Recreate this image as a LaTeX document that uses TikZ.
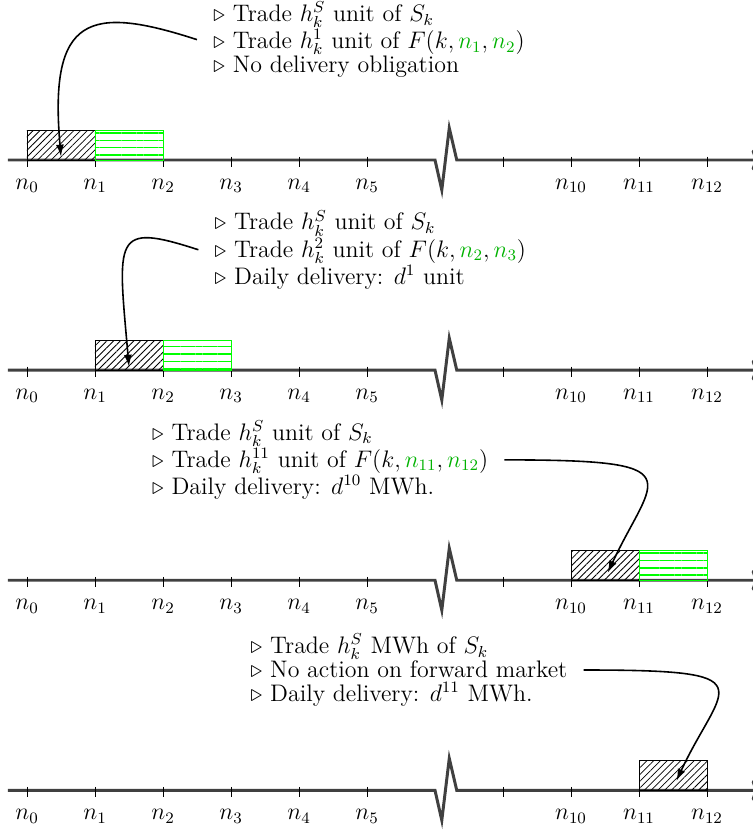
\documentclass[tikz,border=0pt]{standalone}
\usepackage{amsmath,amssymb}
\usepackage{xcolor}
\usepackage{tikz}
\usetikzlibrary{shapes,arrows,arrows.meta,positioning,patterns,patterns.meta}

\tikzset{
  axisline/.style={line width=1.5pt, black!75, ->},
  spotbox/.style={draw=black, pattern={Lines[angle=45,distance=2.4pt]}},
  fwdbox/.style={draw=green, pattern color=green, pattern={Lines[angle=0,distance=3.7pt,line width=0.8pt]}},
  infobox/.style={align=left, inner xsep=8pt, inner ysep=0pt, anchor=west, font=\fontsize{12}{12}\selectfont},
  daylabel/.style={font=\large},
  linkarrow/.style={-{Latex[length=6pt,width=4pt]}, thick}
}
\newcommand{\fwd}[1]{\textcolor{green!70!black}{#1}}

\begin{document}
\begin{tikzpicture}[x=1.2cm,y=1.2cm]
\useasboundingbox (-0.397,2.353) rectangle (10.662,-9.897);
% Four time axes, one per trading day
\foreach \p in {0,1,2,3} {
    \pgfmathsetmacro{\y}{-3.09*\p}
    \draw[axisline] (-0.28,\y) -- (6,\y) -- (6.1,\y-0.44) -- (6.21,\y+0.47) -- (6.32,\y) -- (10.8,\y);
    \foreach \i in {0,...,5,7,8,9,10}
        \draw (\i,\y+0.05) -- (\i,\y-0.1);
    \foreach \i in {0,...,5}
        \node[daylabel] (lab\p-\i) at (\i,\y-0.38) {$n_{\i}$};
    \foreach \i/\l in {8/10,9/11,10/12}
        \node[daylabel] (lab\p-\i) at (\i,\y-0.38) {$n_{\l}$};
}
% Day 1
\draw[spotbox] (0,0) rectangle (1,0.44);
\draw[fwdbox] (1,0) rectangle (2,0.44);
\node[infobox] (info1) at (2.5,1.77) {$\triangleright$ Trade $h_k^S$ unit of $S_k$\\
    $\triangleright$ Trade $h_k^1$ unit of $F(k,\fwd{n_1},\fwd{n_2})$\\
    $\triangleright$ No delivery obligation};
\coordinate (tip1) at (0.5,0.05);
\draw[linkarrow] (info1.west) to[out=162,in=95,out distance=2.0cm,in distance=2.5cm] (tip1);
% Day 2
\draw[spotbox] (1,-3.09) rectangle (2,-2.65);
\draw[fwdbox] (2,-3.09) rectangle (3,-2.65);
\node[infobox] (info2) at (2.52,-1.32) {$\triangleright$ Trade $h_k^S$ unit of $S_k$\\
    $\triangleright$ Trade $h_k^2$ unit of $F(k,\fwd{n_2},\fwd{n_3})$\\
    $\triangleright$ Daily delivery: $d^1$ unit};
\coordinate (tip2) at (1.5,-3.04);
\draw[linkarrow] (info2.west) to[out=162,in=95,out distance=1.6cm,in distance=2.3cm] (tip2);
% Day 11
\draw[spotbox] (8,-6.18) rectangle (9,-5.74);
\draw[fwdbox] (9,-6.18) rectangle (10,-5.74);
\node[infobox] (info3) at (1.6,-4.41) {$\triangleright$ Trade $h_k^S$ unit of $S_k$\\
    $\triangleright$ Trade $h_k^{11}$ unit of $F(k,\fwd{n_{11}},\fwd{n_{12}})$\\
    $\triangleright$ Daily delivery: $d^{10}$ MWh.};
\coordinate (tip3) at (8.54,-6.07);
\draw[linkarrow] (info3.east) to[out=0,in=65,out distance=3.4cm,in distance=1.9cm] (tip3);
% Day 12
\draw[spotbox] (9,-9.27) rectangle (10,-8.83);
\node[infobox] (info4) at (3.05,-7.5) {$\triangleright$ Trade $h_k^S$ MWh of $S_k$\\
    $\triangleright$ No action on forward market\\
    $\triangleright$ Daily delivery: $d^{11}$ MWh.};
\coordinate (tip4) at (9.55,-9.13);
\draw[linkarrow] (info4.east) to[out=0,in=65,out distance=3.3cm,in distance=1.9cm] (tip4);
\end{tikzpicture}
\end{document}
